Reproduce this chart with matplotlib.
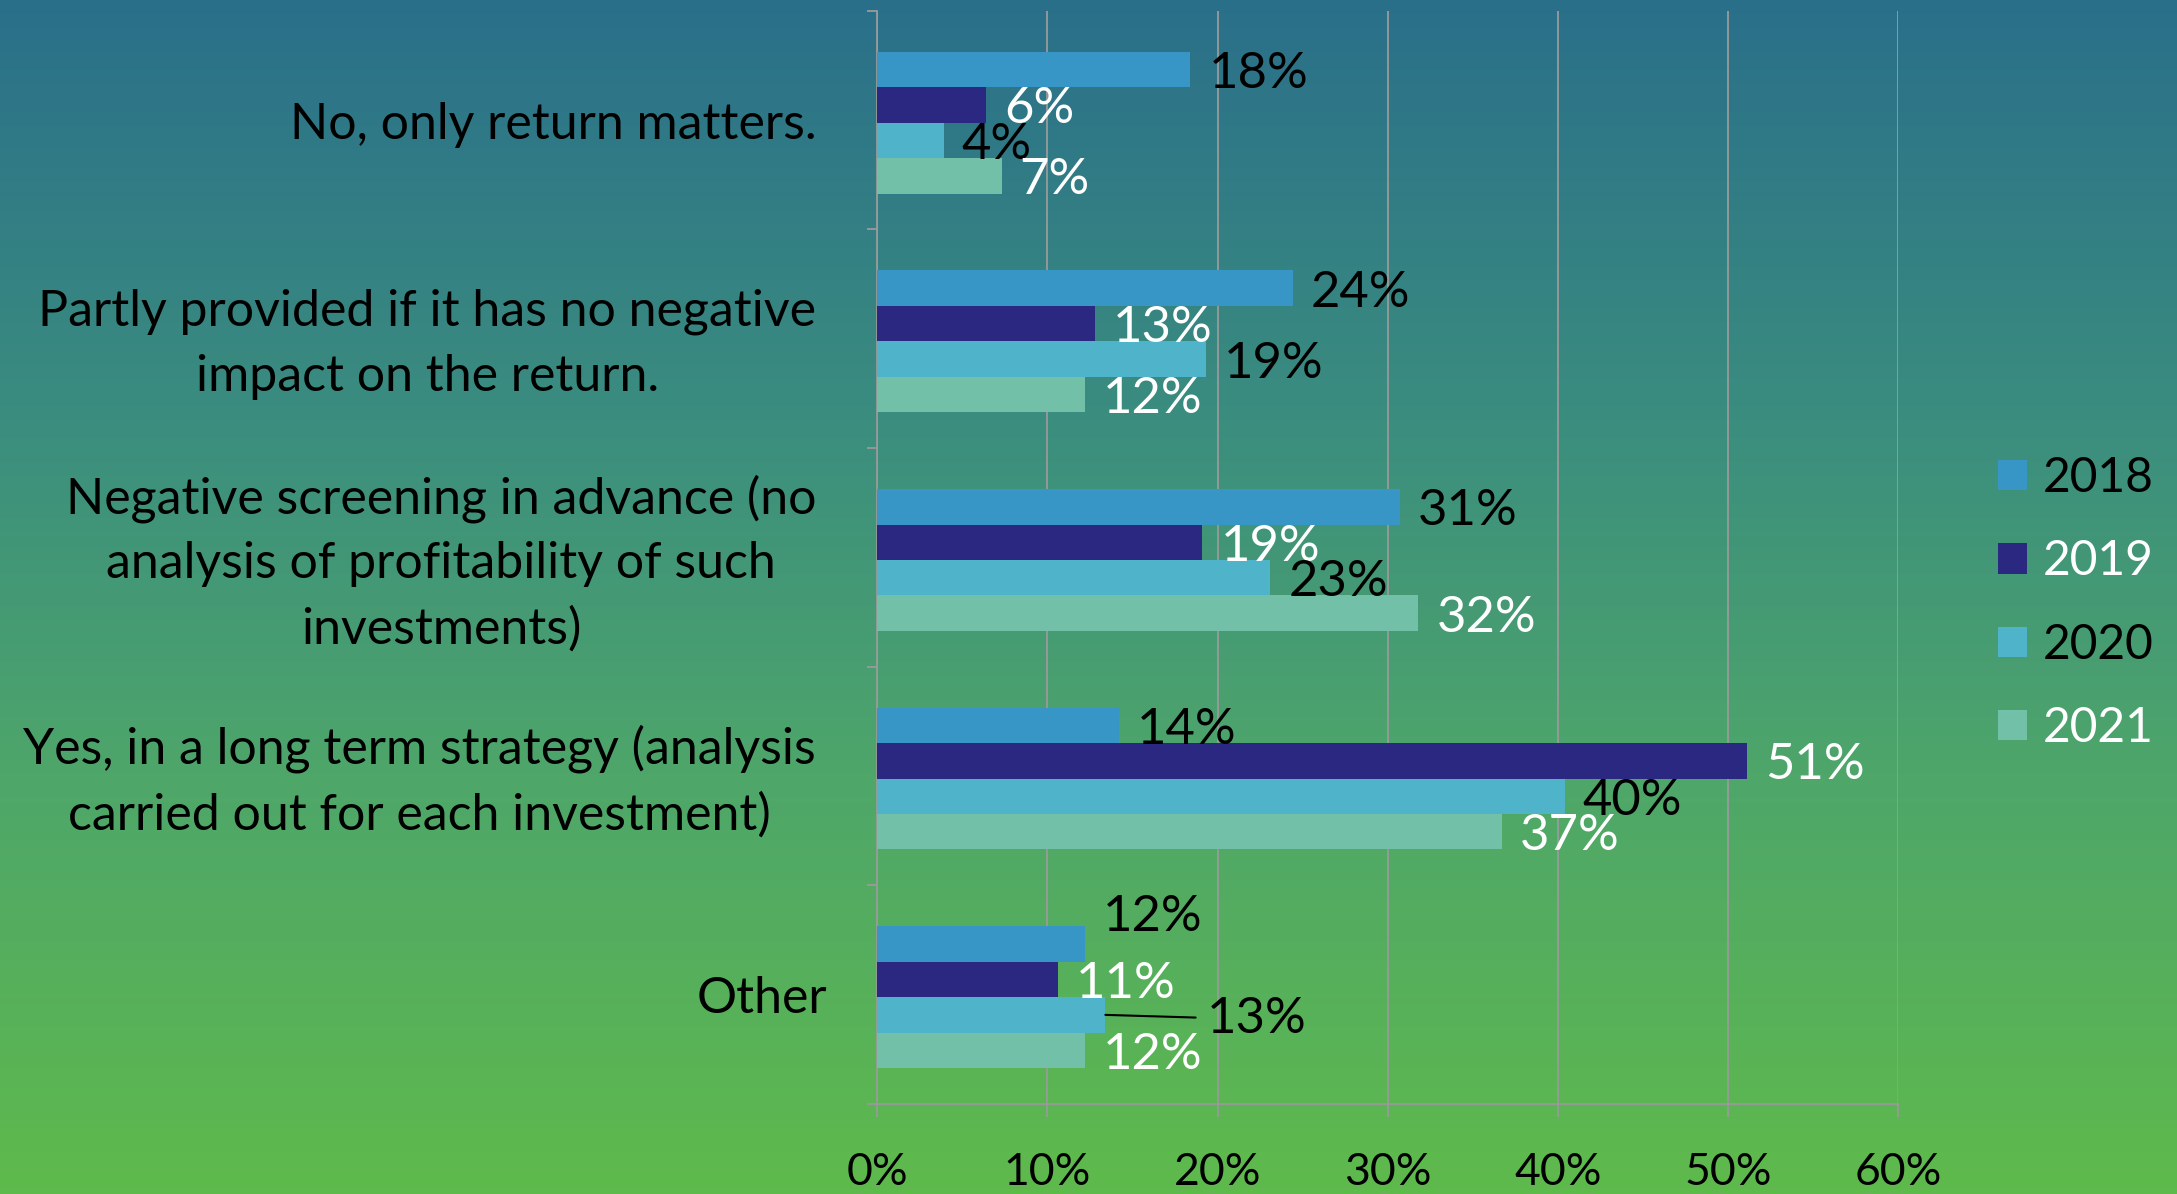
import numpy as np
import matplotlib
matplotlib.use("Agg")
import matplotlib.pyplot as plt
from matplotlib.colors import LinearSegmentedColormap
from matplotlib.ticker import PercentFormatter
from matplotlib.transforms import ScaledTranslation

# --- dati (percentuali) ---
categories = [
    "No, only return matters.",
    "Partly provided if it has no negative\nimpact on the return.",
    "Negative screening in advance (no\nanalysis of profitability of such\ninvestments)",
    "Yes, in a long term strategy (analysis\ncarried out for each investment)",
    "Other",
]
years = ["2018", "2019", "2020", "2021"]
v2018 = [18.4, 24.4, 30.7, 14.2, 12.2]
v2019 = [6.4, 12.8, 19.1, 51.1, 10.6]
v2020 = [3.9, 19.3, 23.1, 40.4, 13.4]
v2021 = [7.3, 12.2, 31.8, 36.7, 12.2]
series = [v2018, v2019, v2020, v2021]

bar_colors = ["#3796c6", "#2a2880", "#4fb4c9", "#72c0a8"]
text_colors = ["black", "white", "black", "white"]
FONT = "Lato"
FS_CAT = 36   # etichette categorie
FS_LAB = 36.5   # etichette dati
FS_TICK = 32
FS_LEG = 34.5

plt.rcParams["font.family"] = [FONT, "DejaVu Sans"]

fig = plt.figure(figsize=(21.77, 11.94), dpi=100)

# sfondo sfumato blu -> verde
bg = fig.add_axes([0, 0, 1, 1], zorder=-1)
cmap = LinearSegmentedColormap.from_list(
    "bg", [(0.0, "#2a6f8a"), (0.35, "#3b8d7f"), (0.65, "#4ea66a"), (1.0, "#5fba4c")])
bg.imshow(np.linspace(0, 1, 256).reshape(-1, 1), aspect="auto", cmap=cmap,
          extent=[0, 1, 0, 1], origin="upper")
bg.axis("off")

ax = fig.add_axes([0.403, 0.0755, 0.469, 0.9155])
ax.patch.set_alpha(0)

n = len(categories)
y = np.arange(n)
h = 0.162
shift = 0.012
grid_col = "#9a9a9a"

for i, vals in enumerate(series):
    ypos = y + (i - 1.5) * h + shift
    ax.barh(ypos, vals, height=h, color=bar_colors[i], zorder=3, label=years[i])
    for j, v in enumerate(vals):
        dx, dy, leader = 13, 0, False
        # aggiustamenti manuali come nell'originale (etichette sovrapposte)
        if j == 4 and i == 0:
            dy = 23
        if j == 4 and i == 2:
            dx, leader = 73, True
        kw = {}
        if leader:
            kw["arrowprops"] = dict(arrowstyle="-", color="black", lw=1.5,
                                    shrinkA=6, shrinkB=0)
        ax.annotate(f"{v:.0f}%", xy=(v, ypos[j]), xytext=(dx, dy),
                    textcoords="offset points", ha="left", va="center_baseline",
                    color=text_colors[i], fontsize=FS_LAB, zorder=5, **kw)

ax.set_xlim(0, 60)
ax.set_ylim(n - 0.5, -0.5)
ax.set_xticks(np.arange(0, 61, 10))
ax.xaxis.set_major_formatter(PercentFormatter(decimals=0))
ax.grid(axis="x", color=grid_col, lw=1.3, zorder=0)
ax.set_axisbelow(True)

ax.set_yticks(y)
ax.set_yticklabels(categories, fontsize=FS_CAT, multialignment="center",
                   linespacing=1.5)
ax.tick_params(axis="y", length=0, pad=44)
ax.set_yticks(np.arange(-0.5, n, 1), minor=True)
ax.tick_params(axis="y", which="minor", length=7, color=grid_col, width=1.3)
ax.tick_params(axis="x", length=9, color=grid_col, width=1.3,
               labelsize=FS_TICK, pad=26)

for s in ["top", "right"]:
    ax.spines[s].set_visible(False)
for s in ["left", "bottom"]:
    ax.spines[s].set_color(grid_col)
    ax.spines[s].set_linewidth(1.3)

leg = ax.legend(loc="center left", bbox_to_anchor=(0.918, 0.495),
                bbox_transform=fig.transFigure, frameon=False, fontsize=FS_LEG,
                handlelength=0.6, handleheight=0.6, handletextpad=0.32,
                labelspacing=0.82, borderpad=0, borderaxespad=0)
for t, c in zip(leg.get_texts(), text_colors):
    t.set_color(c)

# piccoli spostamenti delle etichette di categoria come nell'originale
for k, lbl in enumerate(ax.get_yticklabels()):
    if "\n" in categories[k]:
        off = ScaledTranslation(0, 0.08, fig.dpi_scale_trans)
    elif k == n - 1:
        off = ScaledTranslation(0.11, 0, fig.dpi_scale_trans)
    else:
        continue
    lbl.set_transform(lbl.get_transform() + off)

fig.savefig("out.png", dpi=100)
